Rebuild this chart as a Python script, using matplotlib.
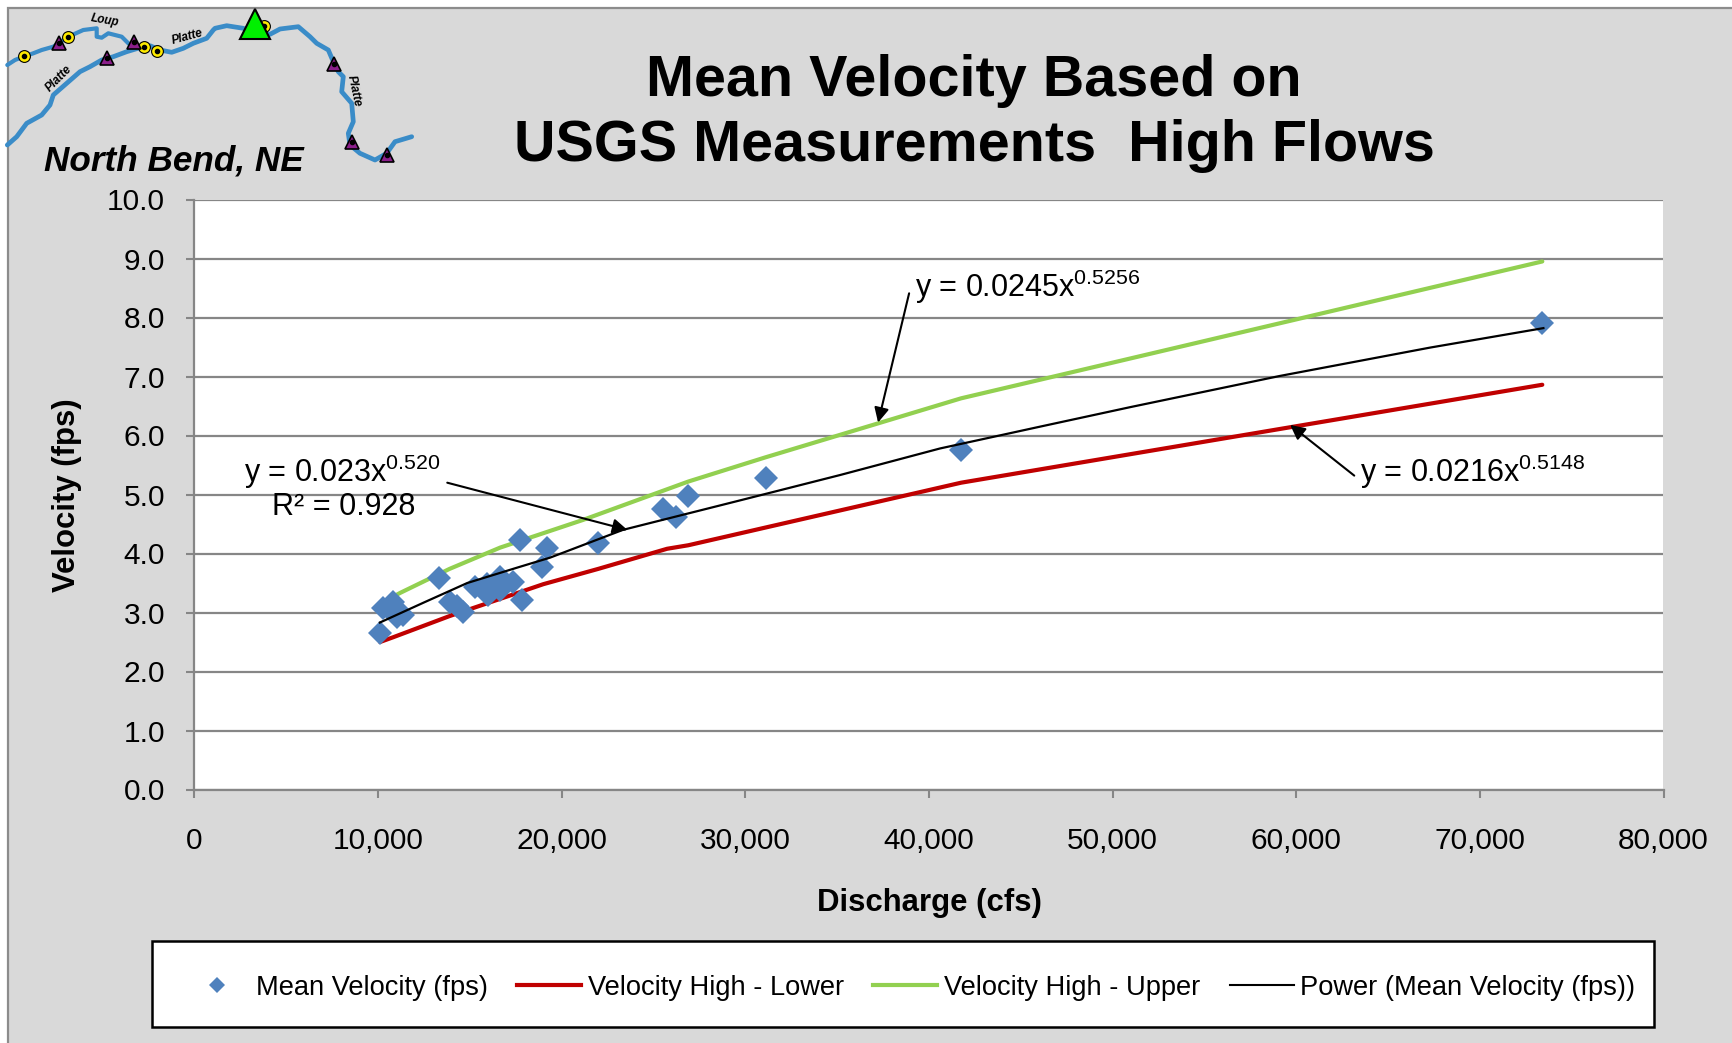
import matplotlib
matplotlib.use("Agg")
import matplotlib.pyplot as plt
from matplotlib.lines import Line2D
from matplotlib.patches import Rectangle

plt.rcParams["font.family"] = ["Liberation Sans", "DejaVu Sans"]
plt.rcParams["mathtext.default"] = "regular"

# measured discharge (cfs) and mean velocity (fps)
discharge = [10110, 10290, 10830, 11015, 11380, 13340, 13920, 14280, 14650, 15280,
             15920, 16010, 16640, 16640, 17370, 17820, 17730, 18910, 19185, 22000,
             25530, 26230, 26900, 31100, 41750, 73400]
velocity = [2.66, 3.07, 3.17, 2.93, 2.96, 3.58, 3.18, 3.11, 3.01, 3.44,
            3.49, 3.30, 3.61, 3.38, 3.52, 3.22, 4.23, 3.77, 4.09, 4.17,
            4.75, 4.62, 4.98, 5.28, 5.75, 7.90]

lower_x = [10110, 10820, 13900, 19000, 22000, 25740, 26900, 31100, 41750, 73400]
lower_y = [2.50, 2.58, 2.94, 3.48, 3.74, 4.08, 4.14, 4.44, 5.20, 6.86]
upper_x = [10300, 11190, 13900, 16650, 21170, 26900, 31100, 41750, 73400]
upper_y = [3.18, 3.33, 3.74, 4.10, 4.57, 5.22, 5.63, 6.63, 8.95]
trend_x = [10100, 12500, 14860, 17570, 19370, 23330, 29710, 35160, 40600, 46050,
           50950, 59120, 67290, 73460]
trend_y = [2.83, 3.17, 3.50, 3.76, 3.93, 4.40, 4.90, 5.33, 5.78, 6.15,
           6.48, 7.01, 7.49, 7.82]

x_ticks = [0, 10000, 20000, 30000, 40000, 50000, 60000, 70000, 80000]
y_ticks = [0, 1, 2, 3, 4, 5, 6, 7, 8, 9, 10]

# location map, in pixels of the 450x200 corner
platte_x = [7.3, 16.7, 26.7, 41.7, 50, 53.3, 66.7, 80, 90, 101.7, 113.3, 126.7, 140, 150,
            160, 171.7, 183.3, 193.3, 206.7, 213.3, 215, 226.7, 243.3, 255, 270, 280, 298.3,
            310, 316.7, 328.3, 333.3, 338.3, 343.3, 341.7, 351.7, 353.3, 348.3, 350, 360,
            375, 386.7, 395, 411.7]
platte_y = [145, 136.7, 123.3, 115, 105, 95, 83.3, 71.7, 66.7, 60, 56.7, 51.7, 47.7, 45.7,
            50, 52.3, 48.3, 43.3, 38.3, 30, 28.3, 25.7, 28.3, 33.3, 34.3, 29, 26.7,
            36.7, 43.3, 50, 61.7, 71.7, 76.7, 91.7, 103.3, 121.7, 133.3, 145, 153.3,
            160, 153.3, 141.7, 136.7]
loup_x = [7.3, 15, 23.3, 33.3, 41.7, 53.3, 68.3, 83.3, 96.7, 96.7, 101.7, 108.3, 121.7, 128.3, 133.3]
loup_y = [65, 60, 56.7, 53.3, 50, 46.7, 36.7, 30, 28.3, 36.7, 37.7, 33.3, 36.7, 43.3, 46.7]
gauge_x = [24, 68.3, 144, 157.3, 264.3]
gauge_y = [56, 36.7, 47.3, 50.7, 25.7]
station_x = [59.3, 106.7, 134, 334, 352, 387.3]
station_y = [43.3, 57.7, 42.3, 64, 141.7, 155]
site_x = [255]
site_y = [23.5]

fig = plt.figure(figsize=(17.32, 10.43), dpi=100, facecolor="white")
fig.add_artist(Rectangle((8 / 1732, -0.01), 1.02, 1.01 - 8 / 1043, transform=fig.transFigure,
                         facecolor="#D9D9D9", edgecolor="#8C8C8C", linewidth=1.6, zorder=-5))

ax = fig.add_axes([194.4 / 1732, 1 - 789.5 / 1043, 1469.1 / 1732, 590 / 1043])
ax.set_facecolor("white")
ax.grid(axis="y", color="#868686", linewidth=1.6)
ax.set_axisbelow(True)

ax.plot(lower_x, lower_y, color="#C00000", linewidth=3, solid_capstyle="round", zorder=3)
ax.plot(upper_x, upper_y, color="#92D050", linewidth=3, solid_capstyle="round", zorder=3)
ax.plot(discharge, velocity, linestyle="none", marker="D", markersize=12.5,
        markerfacecolor="#4F81BD", markeredgecolor="#4F81BD", markeredgewidth=0, zorder=4)
ax.plot(trend_x, trend_y, color="black", linewidth=1.6, zorder=5)

ax.set_xlim(0, 80000)
ax.set_ylim(0, 10)
ax.set_xticks(x_ticks)
ax.set_xticklabels([f"{v:,}" for v in x_ticks])
ax.set_yticks(y_ticks)
ax.set_yticklabels([f"{v:.1f}" for v in y_ticks])
ax.tick_params(axis="x", direction="out", length=6, width=1.5, color="#868686", labelsize=21.5, pad=21)
ax.tick_params(axis="y", direction="out", length=6, width=1.5, color="#868686", labelsize=21.5, pad=15)
for side in ["top", "right"]:
    ax.spines[side].set_visible(False)
for side in ["left", "bottom"]:
    ax.spines[side].set_color("#868686")
    ax.spines[side].set_linewidth(1.6)

fig.text(929 / 1732, 1 - 903 / 1043, "Discharge (cfs)", fontsize=22.4, fontweight="bold",
         ha="center", va="center")
fig.text(67 / 1732, 1 - 495 / 1043, "Velocity (fps)", fontsize=22.4, fontweight="bold",
         rotation=90, ha="center", va="center")
fig.text(974 / 1732, 1 - 113.3 / 1043, "Mean Velocity Based on\nUSGS Measurements  High Flows",
         fontsize=41.4, fontweight="bold", ha="center", va="center", linespacing=1.25)

arrow = dict(arrowstyle="-|>", color="black", linewidth=1.5, mutation_scale=22, shrinkA=0, shrinkB=0)
ax.annotate("", xy=(37230, 6.22), xytext=(38920, 8.41), arrowprops=arrow, zorder=6)
ax.annotate("", xy=(59670, 6.18), xytext=(63160, 5.32), arrowprops=arrow, zorder=6)
ax.annotate("", xy=(23580, 4.40), xytext=(13770, 5.20), arrowprops=arrow, zorder=6)
ax.text(39220, 8.52, "y = 0.0245x$^{0.5256}$", fontsize=22, va="center", ha="left", zorder=7)
ax.text(63460, 5.39, "y = 0.0216x$^{0.5148}$", fontsize=22, va="center", ha="left", zorder=7)
ax.text(2700, 5.39, "y = 0.023x$^{0.520}$", fontsize=22, va="center", ha="left", zorder=7)
ax.text(8120, 4.79, "R² = 0.928", fontsize=22, va="center", ha="center", zorder=7)

handles = [
    Line2D([], [], linestyle="none", marker="D", markersize=8.5, markerfacecolor="#4F81BD",
           markeredgewidth=0),
    Line2D([], [], color="#C00000", linewidth=3),
    Line2D([], [], color="#92D050", linewidth=3),
    Line2D([], [], color="black", linewidth=1.5),
]
labels = ["Mean Velocity (fps)", "Velocity High - Lower", "Velocity High - Upper",
          "Power (Mean Velocity (fps))"]
fig.add_artist(Rectangle((152.4 / 1732, 1 - 1027 / 1043), 1501.2 / 1732, 86 / 1043,
                         transform=fig.transFigure, facecolor="white", edgecolor="black",
                         linewidth=1.8, zorder=1))
leg = fig.legend(handles, labels, loc="center", bbox_to_anchor=(0.5255, 1 - 988 / 1043), ncol=4,
                 frameon=False, fontsize=19.6, handlelength=2.35, handletextpad=0.25,
                 columnspacing=1.08)
leg.set_zorder(2)

# map inset
mp = fig.add_axes([0, 1 - 200 / 1043, 450 / 1732, 200 / 1043])
mp.set_xlim(0, 450)
mp.set_ylim(200, 0)
mp.axis("off")
mp.plot(platte_x, platte_y, color="#3A8CC8", linewidth=3.4, solid_capstyle="round", solid_joinstyle="round")
mp.plot(loup_x, loup_y, color="#3A8CC8", linewidth=3, solid_capstyle="round", solid_joinstyle="round")
mp.plot(gauge_x, gauge_y, linestyle="none", marker="o", markersize=8.5, markerfacecolor="#FFEB00",
        markeredgecolor="black", markeredgewidth=0.8)
mp.plot(gauge_x, gauge_y, linestyle="none", marker="o", markersize=3, color="black")
mp.plot(station_x, station_y, linestyle="none", marker="^", markersize=10, markerfacecolor="#8B1F8B",
        markeredgecolor="black", markeredgewidth=1.2)
mp.plot(station_x, station_y, linestyle="none", marker="o", markersize=3, color="black")
mp.plot(site_x, site_y, linestyle="none", marker="^", markersize=21, markerfacecolor="#00F000",
        markeredgecolor="black", markeredgewidth=1.5)
mp.text(105, 20.7, "Loup", fontsize=8.5, fontweight="bold", fontstyle="italic", rotation=-10, ha="center", va="center")
mp.text(59.3, 79, "Platte", fontsize=8.5, fontweight="bold", fontstyle="italic", rotation=45, ha="center", va="center")
mp.text(187.7, 36.7, "Platte", fontsize=8.5, fontweight="bold", fontstyle="italic", rotation=15, ha="center", va="center")
mp.text(354.3, 90.7, "Platte", fontsize=8.5, fontweight="bold", fontstyle="italic", rotation=-78, ha="center", va="center")
mp.text(174, 161, "North Bend, NE", fontsize=25.3, fontweight="bold", fontstyle="italic", ha="center", va="center")

fig.savefig("out.png", dpi=100, facecolor=fig.get_facecolor())
